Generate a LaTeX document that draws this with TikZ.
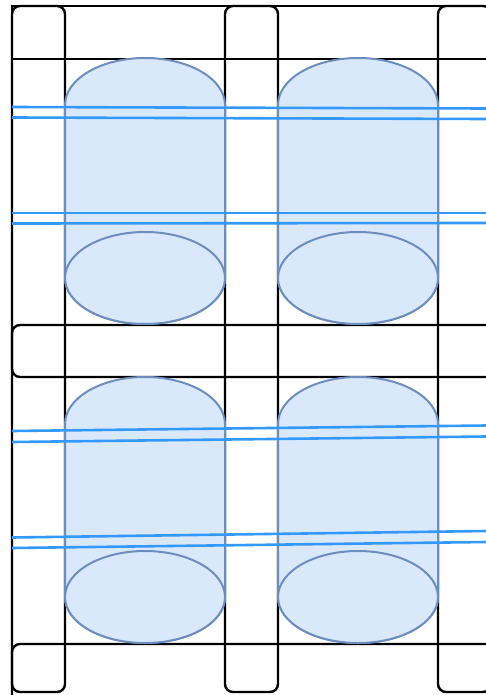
\documentclass[tikz,border=0pt]{standalone}
\usepackage{tikz}
\definecolor{capfill}{HTML}{DAE8FC}
\definecolor{capline}{HTML}{6C8EBF}
\definecolor{rail}{HTML}{3399FF}
\tikzset{
  frame/.style={draw=black, line width=2.4pt, rounded corners=8pt},
  sqframe/.style={draw=black, line width=2.4pt},
  capsule/.style={draw=capline, fill=capfill, line width=2pt},
  railline/.style={draw=rail, line width=2.6pt}
}
\begin{document}
\begin{tikzpicture}[x=1pt,y=-1pt]
\useasboundingbox (0,0) rectangle (486,695);
\begin{scope}
\clip (0,0) rectangle (486,695);
% rows
\draw[sqframe] (12,6) rectangle (520,59);
\draw[frame] (12,325) rectangle (520,377);
\draw[frame] (12,644) rectangle (520,720);
% columns
\draw[frame] (12,6) rectangle (65,692);
\draw[frame] (225,6) rectangle (278,692);
\draw[frame] (438,6) rectangle (491,692);
% capsules
\foreach \cx/\ty/\ey in {145/58/278, 358/58/278, 145/377/597, 358/377/597}{
  \path[capsule] (\cx-80,\ty+47) arc[start angle=180,end angle=0,x radius=80,y radius=-47]
     -- (\cx+80,\ey) arc[start angle=0,end angle=-180,x radius=80,y radius=-46] -- cycle;
  \path[capsule] (\cx,\ey) ellipse[x radius=80,y radius=46];
}
% rails
\coordinate (r1a) at (12,107); \coordinate (r1b) at (486,108.5);
\coordinate (r2a) at (12,117.5); \coordinate (r2b) at (486,119);
\coordinate (r3a) at (12,213); \coordinate (r3b) at (486,213);
\coordinate (r4a) at (12,223.5); \coordinate (r4b) at (486,223);
\coordinate (r5a) at (12,431); \coordinate (r5b) at (486,425.5);
\coordinate (r6a) at (12,442); \coordinate (r6b) at (486,436.5);
\coordinate (r7a) at (12,537.5); \coordinate (r7b) at (486,531);
\coordinate (r8a) at (12,548); \coordinate (r8b) at (486,542);
\foreach \i in {1,...,8}{ \draw[railline] (r\i a) -- (r\i b); }
\end{scope}
\end{tikzpicture}
\end{document}
